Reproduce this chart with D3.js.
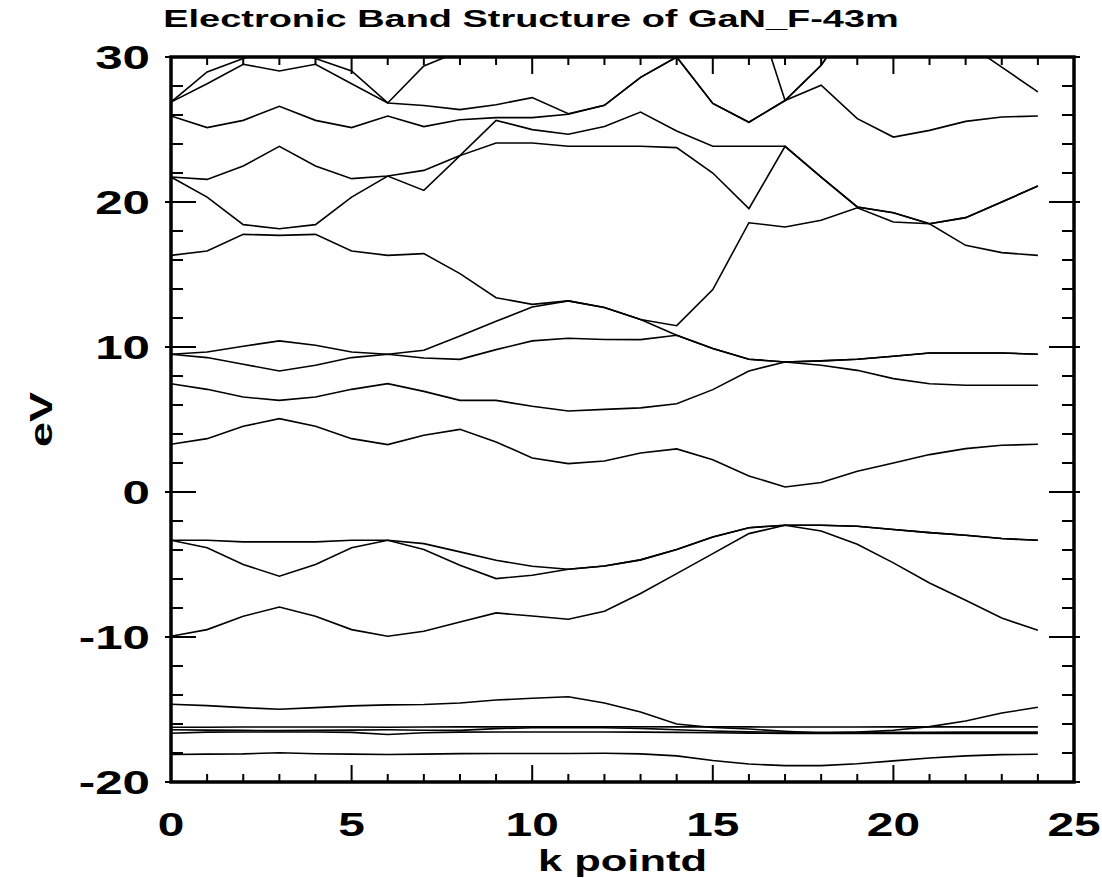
<!DOCTYPE html>
<html>
<head>
<meta charset="utf-8">
<script src="https://cdn.jsdelivr.net/npm/d3@7"></script>
<style>
  body { margin: 0; background: #fff; }
  svg text { font-family: "Liberation Sans", Arial, Helvetica, sans-serif; font-weight: bold; fill: #000; }
</style>
</head>
<body>
<div id="chart"></div>
<script>
(function () {

  // k point index along the path
  var kPoints = [0, 1, 2, 3, 4, 5, 6, 7, 8, 9, 10, 11, 12, 13, 14, 15, 16, 17, 18, 19, 20, 21, 22, 23, 24]

  // band energies (eV), bottom to top
  var band01 = [-18.1, -18.08, -18.06, -17.98, -18.05, -18.08, -18.1, -18.08, -18.04, -18.03, -18.03, -18.03, -18.02, -18.06, -18.2, -18.52, -18.76, -18.87, -18.87, -18.74, -18.54, -18.34, -18.2, -18.11, -18.09]
  var band02 = [-16.64, -16.56, -16.55, -16.55, -16.55, -16.58, -16.72, -16.6, -16.56, -16.55, -16.55, -16.55, -16.55, -16.56, -16.58, -16.6, -16.63, -16.66, -16.66, -16.66, -16.66, -16.66, -16.66, -16.66, -16.66]
  var band03 = [-16.4, -16.42, -16.44, -16.46, -16.44, -16.42, -16.4, -16.43, -16.44, -16.32, -16.26, -16.25, -16.26, -16.3, -16.4, -16.48, -16.54, -16.57, -16.58, -16.58, -16.57, -16.57, -16.56, -16.56, -16.56]
  var band04 = [-16.22, -16.22, -16.21, -16.21, -16.21, -16.21, -16.22, -16.21, -16.2, -16.2, -16.19, -16.19, -16.19, -16.19, -16.2, -16.2, -16.2, -16.21, -16.21, -16.21, -16.2, -16.2, -16.2, -16.2, -16.2]
  var band05 = [-14.64, -14.73, -14.87, -14.98, -14.87, -14.75, -14.68, -14.66, -14.55, -14.35, -14.22, -14.12, -14.55, -15.17, -16.0, -16.24, -16.35, -16.5, -16.62, -16.56, -16.43, -16.18, -15.79, -15.24, -14.85]
  var band06 = [-9.95, -9.49, -8.57, -7.93, -8.57, -9.49, -9.95, -9.6, -8.96, -8.34, -8.55, -8.78, -8.23, -7.0, -5.63, -4.25, -2.87, -2.29, -2.69, -3.6, -4.89, -6.27, -7.47, -8.69, -9.54]
  var band07 = [-3.33, -3.85, -5.0, -5.81, -5.0, -3.85, -3.33, -3.97, -5.05, -5.97, -5.74, -5.33, -5.1, -4.68, -3.97, -3.1, -2.46, -2.29, -2.29, -2.36, -2.59, -2.8, -2.98, -3.21, -3.33]
  var band08 = [-3.33, -3.33, -3.44, -3.44, -3.44, -3.33, -3.33, -3.56, -4.13, -4.71, -5.12, -5.33, -5.1, -4.68, -3.97, -3.1, -2.46, -2.29, -2.29, -2.36, -2.59, -2.8, -2.98, -3.21, -3.33]
  var band09 = [3.29, 3.68, 4.53, 5.06, 4.53, 3.68, 3.27, 3.91, 4.32, 3.45, 2.35, 1.96, 2.14, 2.69, 2.97, 2.23, 1.11, 0.35, 0.65, 1.43, 2.0, 2.58, 2.99, 3.22, 3.29]
  var band10 = [7.47, 7.08, 6.55, 6.32, 6.55, 7.08, 7.47, 6.94, 6.32, 6.32, 5.91, 5.59, 5.7, 5.8, 6.09, 7.06, 8.35, 8.97, 8.74, 8.39, 7.82, 7.47, 7.36, 7.36, 7.36]
  var band11 = [9.5, 9.27, 8.81, 8.35, 8.74, 9.27, 9.5, 9.24, 9.15, 9.82, 10.42, 10.6, 10.52, 10.51, 10.81, 9.89, 9.15, 8.97, 9.04, 9.15, 9.36, 9.59, 9.59, 9.59, 9.5]
  var band12 = [9.5, 9.66, 10.05, 10.42, 10.12, 9.66, 9.5, 9.77, 10.76, 11.77, 12.76, 13.18, 12.72, 11.89, 10.81, 9.89, 9.15, 8.97, 9.04, 9.15, 9.36, 9.59, 9.59, 9.59, 9.5]
  var band13 = [16.32, 16.62, 17.77, 17.7, 17.77, 16.62, 16.32, 16.44, 15.06, 13.4, 12.94, 13.18, 12.72, 11.89, 11.47, 13.96, 18.57, 18.28, 18.74, 19.6, 18.62, 18.5, 17.01, 16.51, 16.32]
  var band14 = [21.72, 20.34, 18.44, 18.16, 18.44, 20.34, 21.79, 20.8, 23.2, 24.07, 24.07, 23.84, 23.84, 23.84, 23.75, 22.0, 19.54, 23.84, 21.72, 19.66, 19.26, 18.5, 18.92, 20.0, 21.1]
  var band15 = [21.72, 21.56, 22.48, 23.84, 22.48, 21.61, 21.79, 22.18, 23.2, 25.63, 24.99, 24.67, 25.2, 26.2, 24.9, 23.84, 23.84, 23.84, 21.72, 19.66, 19.26, 18.5, 18.92, 20.0, 21.1]
  var band16 = [25.93, 25.13, 25.63, 26.6, 25.63, 25.13, 25.93, 25.2, 25.67, 25.82, 25.82, 26.05, 26.67, 28.6, 30.0, 26.8, 25.5, 27.0, 28.05, 25.75, 24.48, 24.94, 25.56, 25.86, 25.93]
  var band17 = [26.89, 28.16, 29.5, 29.04, 29.5, 28.16, 26.83, 26.66, 26.37, 26.71, 27.2, 26.09, 26.67, 28.6, 30.0, 26.8, 25.5, 27.0, 29.43, 33.0, 33.5, 33.0, 31.0, 29.3, 27.59]
  var band18 = [26.89, 28.97, 29.89, 30.8, 29.89, 29.04, 26.83, 29.38, 30.4, 31.0, 31.5, 32.0, 32.0, 32.0, 33.0, 34.0, 34.7, 27.0, 29.43, 33.0, 33.5, 33.0, 32.0, 31.5, 31.0]

  var bands = [band01, band02, band03, band04, band05, band06, band07, band08, band09,
    band10, band11, band12, band13, band14, band15, band16, band17, band18]

  var xTicks = [0, 5, 10, 15, 20, 25]
  var yTicks = [-20, -10, 0, 10, 20, 30]

  var titleText = "Electronic Band Structure of GaN_F-43m"
  var xLabel = "k pointd"
  var yLabel = "eV"

  // Layout
  var W = 1102, H = 878
  var left = 171, right = 1074, top = 57, bottom = 782
  var stretch = 1.45

  var svg = d3.select("#chart").append("svg")
    .attr("width", W)
    .attr("height", H)

  svg.append("rect").attr("width", W).attr("height", H).attr("fill", "#fff")

  var x = d3.scaleLinear().domain([0, 25]).range([left, right])
  var y = d3.scaleLinear().domain([-20, 30]).range([bottom, top])

  svg.append("clipPath").attr("id", "plotclip")
    .append("rect")
    .attr("x", left).attr("y", top)
    .attr("width", right - left).attr("height", bottom - top)

  // Bands
  var line = d3.line()
    .x(function (d, i) { return x(kPoints[i]) })
    .y(function (d) { return y(d) })

  svg.append("g")
    .attr("clip-path", "url(#plotclip)")
    .selectAll(".band")
    .data(bands)
    .enter().append("path")
    .attr("class", "band")
    .attr("d", line)
    .attr("fill", "none")
    .attr("stroke", "#000")
    .attr("stroke-width", 1.6)
    .attr("stroke-linejoin", "miter")

  // Ticks (inside, all four sides)
  var minorX = x.ticks(25), minorY = y.ticks(25)
  var ticks = svg.append("g").attr("stroke", "#000").attr("stroke-width", 2)

  minorX.forEach(function (k) {
    var major = xTicks.indexOf(k) >= 0
    var len = major ? 17 : 8
    ticks.append("line").attr("x1", x(k)).attr("x2", x(k)).attr("y1", bottom).attr("y2", bottom - len)
    ticks.append("line").attr("x1", x(k)).attr("x2", x(k)).attr("y1", top).attr("y2", top + len)
  })

  minorY.forEach(function (e) {
    var major = yTicks.indexOf(e) >= 0
    var len = major ? 25 : 12
    var out = major ? 6 : 0
    ticks.append("line").attr("x1", left - out).attr("x2", left + len).attr("y1", y(e)).attr("y2", y(e))
    ticks.append("line").attr("x1", right + out).attr("x2", right - len).attr("y1", y(e)).attr("y2", y(e))
  })

  // Frame
  svg.append("rect")
    .attr("x", left).attr("y", top)
    .attr("width", right - left).attr("height", bottom - top)
    .attr("fill", "none")
    .attr("stroke", "#000")
    .attr("stroke-width", 3.5)

  function label(tx, ty, str, size, anchor, rot) {
    var t = "translate(" + tx + "," + ty + ")" + (rot ? " rotate(" + rot + ")" : "") + " scale(" + stretch + ",1)"
    return svg.append("text")
      .attr("transform", t)
      .attr("text-anchor", anchor)
      .style("font-size", size + "px")
      .text(str)
  }

  xTicks.forEach(function (k) {
    label(x(k), 836, k, 33, "middle")
  })

  yTicks.forEach(function (e) {
    label(150, y(e), e, 34, "end").attr("dy", "0.36em")
  })

  label((left + right) / 2, 871, xLabel, 30, "middle")
  label(52, (top + bottom) / 2, yLabel, 31, "middle", -90)

  svg.append("text")
    .attr("transform", "translate(531,27) scale(1.65,1)")
    .attr("text-anchor", "middle")
    .style("font-size", "23px")
    .text(titleText)

})()
</script>
</body>
</html>
